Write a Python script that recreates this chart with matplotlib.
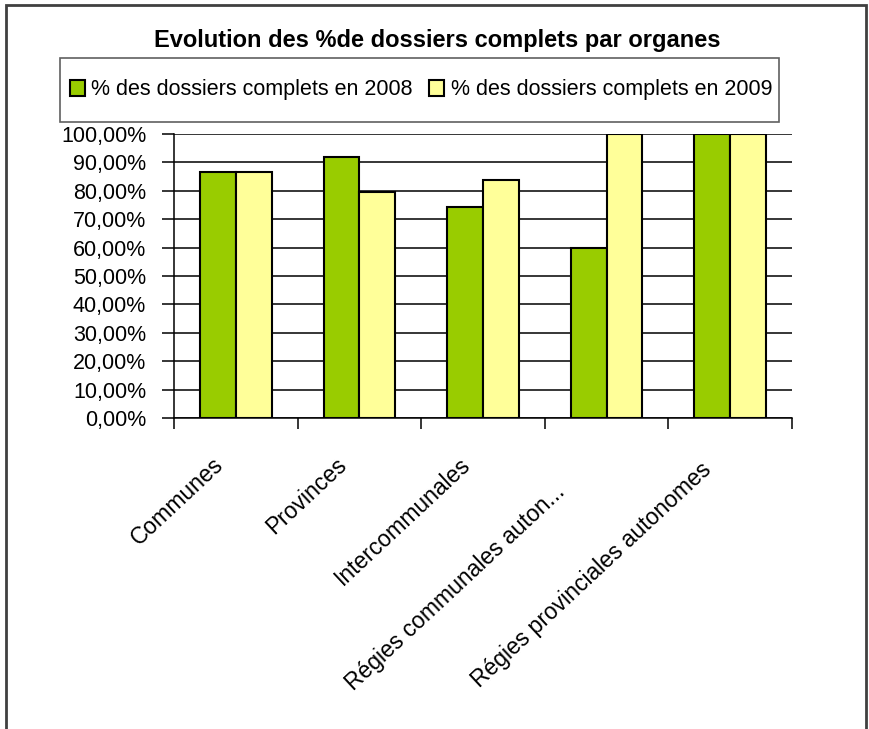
import matplotlib
matplotlib.use("Agg")
import matplotlib.pyplot as plt
from matplotlib.patches import Rectangle
from matplotlib.ticker import FuncFormatter
from matplotlib.transforms import ScaledTranslation
import numpy as np

plt.rcParams['font.family'] = ['Liberation Sans', 'DejaVu Sans']

categories = ["Communes", "Provinces", "Intercommunales",
              "Régies communales auton...", "Régies provinciales autonomes"]
pct_2008 = [86.5, 92.0, 74.4, 60.0, 100.0]
pct_2009 = [86.5, 79.5, 83.7, 100.0, 100.0]
labels = ["% des dossiers complets en 2008", "% des dossiers complets en 2009"]

W, H = 869, 729
fig = plt.figure(figsize=(W/100, H/100), dpi=100)
ax = fig.add_axes([174/W, 1-418/H, (792-174)/W, (418-134)/H])

x = np.arange(len(categories))
w = 0.29
b1 = ax.bar(x - w/2, pct_2008, w, color="#99CC00", edgecolor="black",
            linewidth=1.5, label=labels[0], zorder=3)
b2 = ax.bar(x + w/2, pct_2009, w, color="#FFFF99", edgecolor="black",
            linewidth=1.5, label=labels[1], zorder=3)

ax.set_ylim(0, 100)
ax.set_xlim(-0.5, len(categories) - 0.5)
ax.set_yticks(np.arange(0, 101, 10))
ax.yaxis.set_major_formatter(FuncFormatter(lambda v, p: f"{v:.2f}".replace(".", ",") + "%"))
ax.grid(axis="y", color="black", linewidth=1.1, zorder=0)
ax.tick_params(axis="y", length=9, width=1.1, labelsize=15.5, pad=11)

ax.set_xticks(x)
ax.set_xticklabels(categories, rotation=43, ha="right", va="top",
                   rotation_mode="anchor", fontsize=16.5)
ax.set_xticks(np.arange(-0.5, len(categories)), minor=True)
ax.tick_params(axis="x", which="major", length=0, pad=0)
ax.tick_params(axis="x", which="minor", length=8, width=1.1)

# shift labels like excel does (pixels), extra slide along the text for the truncated one
extra = [0, 0, 0, -40, -8]
for lab, e in zip(ax.get_xticklabels(), extra):
    dx = -24 + e * 0.73
    dy = -35 + e * 0.68
    lab.set_transform(lab.get_transform() + ScaledTranslation(dx/100, dy/100, fig.dpi_scale_trans))

for s in ["top", "right"]:
    ax.spines[s].set_visible(False)
ax.spines["left"].set_linewidth(1.1)
ax.spines["bottom"].set_linewidth(1.1)

fig.text(437/W, 1-40/H, "Evolution des %de dossiers complets par organes",
         ha="center", va="center", fontsize=17, fontweight="bold")

# legend box drawn separately (excel style, tight horizontally)
fig.patches.append(Rectangle((60/W, 1-122/H), (779-60)/W, 64/H,
                             transform=fig.transFigure, fill=False,
                             edgecolor="#606060", linewidth=1.2))
leg = fig.legend(handles=[b1, b2], labels=labels, ncol=2,
                 loc="center", bbox_to_anchor=(421/W, 1-90/H),
                 fontsize=15.5, frameon=False,
                 handlelength=0.7, handleheight=0.7,
                 handletextpad=0.3, columnspacing=0.75, borderpad=0)

fig.patches.append(Rectangle((6/W, -0.01), (866-6)/W, 1.01 - 5/H,
                             transform=fig.transFigure, fill=False,
                             edgecolor="#404040", linewidth=2))

fig.savefig("out.png", dpi=100)
